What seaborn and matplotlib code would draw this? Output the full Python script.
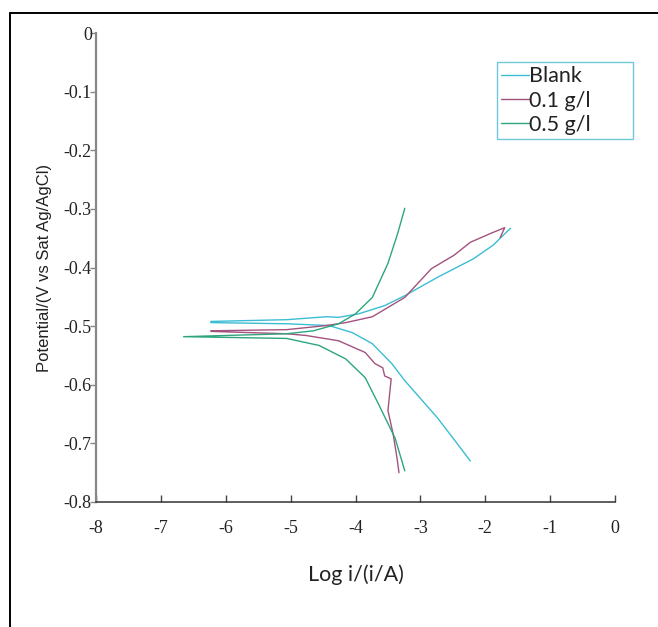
import pandas as pd
import seaborn as sns
import matplotlib.pyplot as plt
from matplotlib.lines import Line2D

# Tafel curves: log i vs potential, cathodic end first
blank_logi = [-2.23, -2.38, -2.74, -3.24, -3.44, -3.74, -4.05, -4.41, -5.06, -6.23,
              -6.23, -5.06, -4.45, -4.26, -3.95, -3.55, -3.24, -2.74, -2.18, -1.88, -1.61]
blank_pot = [-0.730, -0.708, -0.656, -0.593, -0.564, -0.530, -0.511, -0.499, -0.496, -0.494,
             -0.492, -0.489, -0.484, -0.485, -0.479, -0.465, -0.448, -0.417, -0.385, -0.362, -0.333]

c01_logi = [-3.33, -3.36, -3.42, -3.50, -3.45, -3.55, -3.58, -3.70, -3.85, -4.26, -4.76, -5.06, -6.23,
            -6.23, -5.06, -4.45, -4.15, -3.74, -3.24, -2.83, -2.48, -2.23, -1.92, -1.70, -1.77]
c01_pot = [-0.750, -0.725, -0.684, -0.644, -0.590, -0.585, -0.571, -0.564, -0.545, -0.525, -0.516, -0.513, -0.509,
           -0.508, -0.506, -0.499, -0.494, -0.484, -0.451, -0.402, -0.379, -0.357, -0.342, -0.332, -0.349]

c05_logi = [-3.24, -3.39, -3.65, -3.85, -4.15, -4.56, -5.06, -6.65,
            -5.06, -4.65, -4.26, -4.00, -3.74, -3.50, -3.35, -3.24]
c05_pot = [-0.747, -0.691, -0.632, -0.588, -0.556, -0.533, -0.521, -0.518,
           -0.513, -0.508, -0.496, -0.479, -0.451, -0.393, -0.342, -0.299]

names = ['Blank', '0.1 g/l', '0.5 g/l']
colors = ['#3bbdd4', '#a3527f', '#2ea57f']

x_ticks = [-8, -7, -6, -5, -4, -3, -2, -1, 0]
x_labels = ['-8', '-7', '-6', '-5', '-4', '-3', '-2', '-1', '0']
y_ticks = [0, -0.1, -0.2, -0.3, -0.4, -0.5, -0.6, -0.7, -0.8]
y_labels = ['0', '-0.1', '-0.2', '-0.3', '-0.4', '-0.5', '-0.6', '-0.7', '-0.8']

frames = []
for name, xs, ys in zip(names, [blank_logi, c01_logi, c05_logi], [blank_pot, c01_pot, c05_pot]):
    frames.append(pd.DataFrame({'logi': xs, 'pot': ys, 'sample': name}))
df = pd.concat(frames, ignore_index=True)

sns.set_style('white')
plt.rcParams['axes.unicode_minus'] = False
plt.rcParams['font.family'] = ['DejaVu Sans']

fig = plt.figure(figsize=(6.58, 6.27), dpi=100)
ax = fig.add_axes([96 / 658, 1 - 502 / 627, (615 - 96) / 658, (502 - 33) / 627])

sns.lineplot(data=df, x='logi', y='pot', hue='sample', palette=colors, hue_order=names,
             sort=False, estimator=None, linewidth=1.0, legend=False, ax=ax)

ax.set_xlim(-8, 0)
ax.set_ylim(-0.8, 0)
ax.set_xticks(x_ticks)
ax.set_xticklabels(x_labels, fontfamily='Liberation Serif', fontsize=13, color='#222222')
ax.set_yticks(y_ticks)
ax.set_yticklabels(y_labels, fontfamily='Liberation Serif', fontsize=13, color='#222222')
ax.tick_params(axis='x', direction='in', length=5, width=1, color='#444444', pad=13, bottom=True)
ax.tick_params(axis='y', direction='out', length=4, width=1, color='#888888', pad=-1, left=True)

for side in ['top', 'right']:
    ax.spines[side].set_visible(False)
ax.spines['left'].set_color('#888888')
ax.spines['left'].set_linewidth(1.6)
ax.spines['bottom'].set_color('#333333')
ax.spines['bottom'].set_linewidth(1.1)

ax.set_xlabel('Log i/(i/A)', fontfamily='Lato', fontsize=15.5, color='#222222', labelpad=20)
ax.set_ylabel('Potential/(V vs Sat Ag/AgCl)', fontfamily='Liberation Sans', fontsize=12,
              color='#222222', labelpad=8)

leg = ax.legend(handles=ax.lines, labels=names, loc='upper left',
                bbox_to_anchor=(497 / 658, 1 - 62 / 627, 136 / 658, 0),
                bbox_transform=fig.transFigure, mode='expand',
                borderaxespad=0, fancybox=False, frameon=True, handlelength=1.3,
                handletextpad=0.0, labelspacing=0.2, borderpad=0.2,
                prop={'family': 'Lato', 'size': 15.5})
leg.get_frame().set_edgecolor('#4bbcd0')
leg.get_frame().set_linewidth(1.0)
for t in leg.get_texts():
    t.set_color('#222222')

# outer frame of the original picture (only top and left edges visible)
fig.add_artist(Line2D([10 / 658, 10 / 658], [0, 1 - 13 / 627], transform=fig.transFigure,
                      color='black', linewidth=1.4))
fig.add_artist(Line2D([10 / 658, 1], [1 - 13 / 627, 1 - 13 / 627], transform=fig.transFigure,
                      color='black', linewidth=1.4))

plt.savefig('out.png', dpi=100)
plt.close()
